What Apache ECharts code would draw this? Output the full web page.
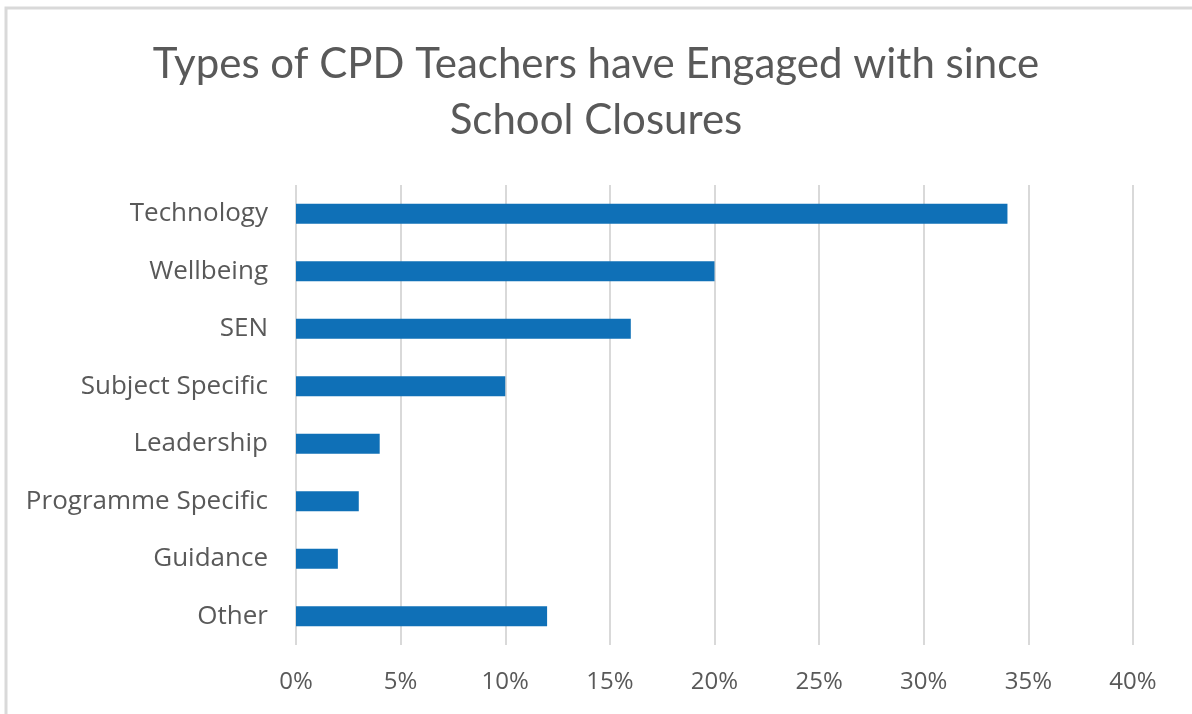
<!DOCTYPE html>
<html>
<head>
<meta charset="utf-8">
<script src="https://cdn.jsdelivr.net/npm/echarts@6/dist/echarts.min.js"></script>
<style>
  html, body { margin: 0; padding: 0; background: #fff; }
  #chart { width: 1192px; height: 714px; }
</style>
</head>
<body>
<div id="chart"></div>
<script>
// data
const categories = ['Technology', 'Wellbeing', 'SEN', 'Subject Specific', 'Leadership', 'Programme Specific', 'Guidance', 'Other'];
const shares = [34, 20, 16, 10, 4, 3, 2, 12];
const axisMax = 40;
const axisStep = 5;

const chart = echarts.init(document.getElementById('chart'));
chart.setOption({
  animation: false,
  title: {
    text: 'Types of CPD Teachers have Engaged with since\nSchool Closures',
    left: 'center',
    top: 31,
    textStyle: {
      fontFamily: 'Lato',
      fontWeight: 'normal',
      fontSize: 42,
      lineHeight: 56,
      color: '#595959'
    }
  },
  graphic: [{
    type: 'rect',
    shape: { x: 6, y: 8, width: 1200, height: 720 },
    style: { fill: 'none', stroke: '#d9d9d9', lineWidth: 3 },
    silent: true
  }],
  grid: { left: 296, right: 59, top: 185, bottom: 69 },
  xAxis: {
    type: 'value',
    min: 0,
    max: axisMax,
    interval: axisStep,
    axisLine: { show: false },
    axisTick: { show: false },
    splitLine: { lineStyle: { color: '#d9d9d9', width: 2 } },
    axisLabel: {
      formatter: '{value}%',
      margin: 25,
      fontFamily: 'Open Sans',
      fontSize: 24,
      color: '#595959'
    }
  },
  yAxis: {
    type: 'category',
    inverse: true,
    data: categories,
    axisLine: { show: false },
    axisTick: { show: false },
    axisLabel: {
      margin: 28,
      fontFamily: 'Open Sans',
      fontSize: 26,
      color: '#595959'
    }
  },
  series: [{
    type: 'bar',
    data: shares,
    barWidth: 20,
    itemStyle: { color: '#0F70B7' }
  }]
});
</script>
</body>
</html>
